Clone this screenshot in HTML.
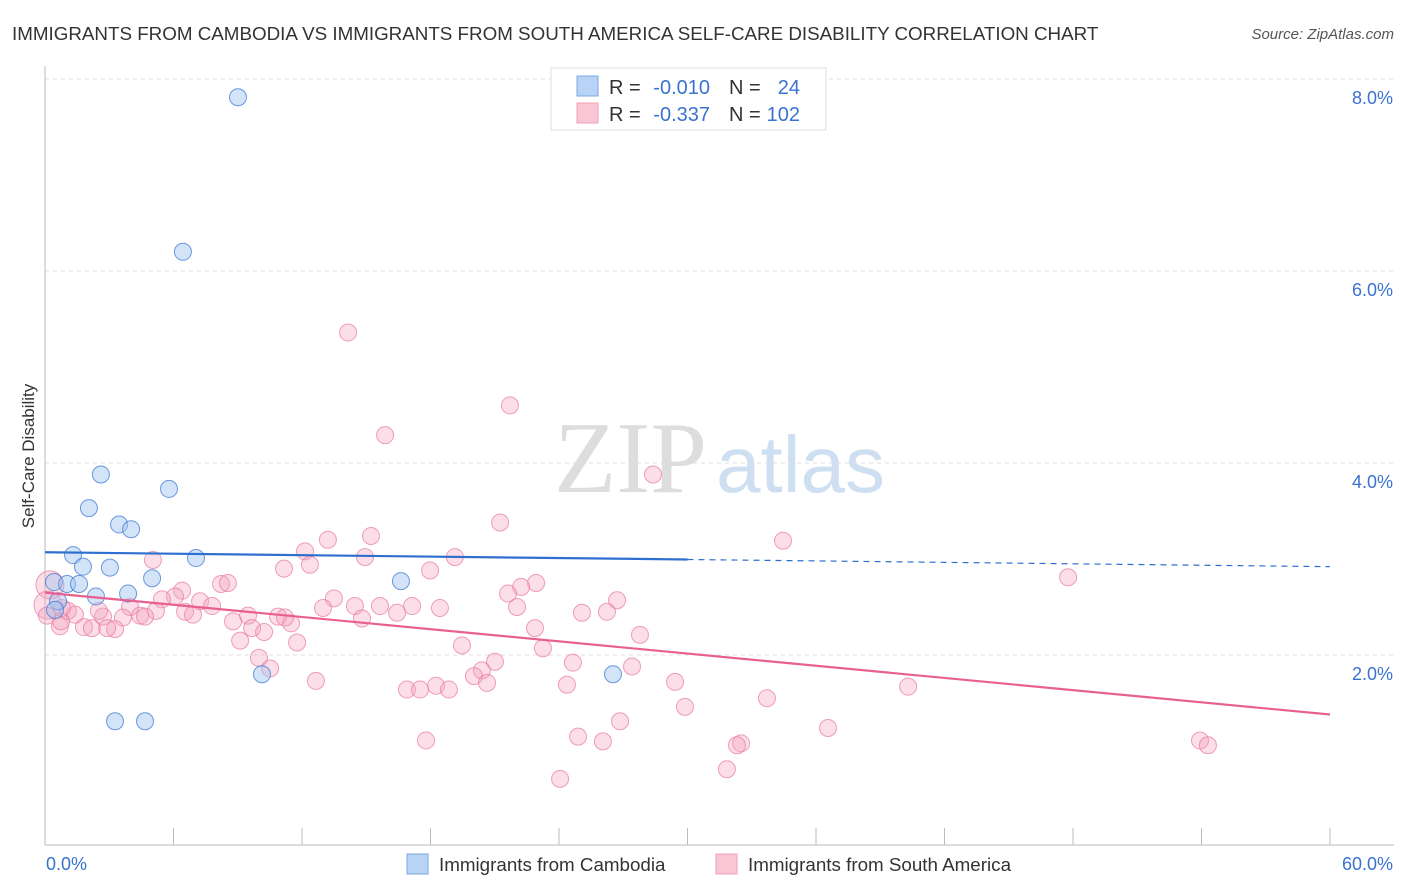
<!DOCTYPE html>
<html><head><meta charset="utf-8"><style>
body{margin:0;background:#fff;font-family:"Liberation Sans",sans-serif;}
#wrap{position:relative;width:1406px;height:892px;overflow:hidden;}
</style></head><body>
<div id="wrap">
<svg id="svg" width="1406" height="892" xmlns="http://www.w3.org/2000/svg">
<text x="12" y="40" font-size="18.8" fill="#333">IMMIGRANTS FROM CAMBODIA VS IMMIGRANTS FROM SOUTH AMERICA SELF-CARE DISABILITY CORRELATION CHART</text>
<text x="1394" y="39" font-size="15" fill="#555" font-style="italic" text-anchor="end">Source: ZipAtlas.com</text>
<text x="34" y="456" font-size="17" fill="#333" text-anchor="middle" transform="rotate(-90 34 456)">Self-Care Disability</text>
<text x="554" y="492" font-size="102" fill="#ddd" font-family="Liberation Serif,serif">ZIP</text>
<text x="716" y="492" font-size="80" fill="#cfdff2">atlas</text>
<g id="grid"></g><g id="axes"></g><g id="pts"></g><g id="lines"></g>
<g>
<rect x="551" y="68" width="275" height="62" fill="#fff" stroke="#ddd"/>
<rect x="577" y="76" width="21" height="20" fill="#b8d3f5" stroke="#7aa8e0"/>
<rect x="577" y="103" width="21" height="20" fill="#f9c6d6" stroke="#f0a0b8"/>
<text x="609" y="94" font-size="20" fill="#333">R =</text>
<text x="710" y="94" font-size="20" fill="#3a72d0" text-anchor="end">-0.010</text>
<text x="729" y="94" font-size="20" fill="#333">N =</text>
<text x="800" y="94" font-size="20" fill="#3a72d0" text-anchor="end">24</text>
<text x="609" y="121" font-size="20" fill="#333">R =</text>
<text x="710" y="121" font-size="20" fill="#3a72d0" text-anchor="end">-0.337</text>
<text x="729" y="121" font-size="20" fill="#333">N =</text>
<text x="800" y="121" font-size="20" fill="#3a72d0" text-anchor="end">102</text>
</g>
<g>
<rect x="407" y="854" width="21" height="20" fill="#b8d3f5" stroke="#7aa8e0"/>
<text x="439" y="871" font-size="18.8" fill="#333">Immigrants from Cambodia</text>
<rect x="716" y="854" width="21" height="20" fill="#f9c6d6" stroke="#f0a0b8"/>
<text x="748" y="871" font-size="18.8" fill="#333">Immigrants from South America</text>
</g>
</svg>
</div>
<script>
const blueX=[9.01,6.44,2.61,5.79,2.05,3.46,4.02,1.31,7.05,1.77,3.03,5.00,16.62,0.42,1.03,1.59,2.38,3.88,0.61,0.47,10.13,26.52,3.27,4.67];
const blueY=[7.81,6.20,3.88,3.73,3.53,3.36,3.31,3.04,3.01,2.92,2.91,2.80,2.77,2.76,2.74,2.74,2.61,2.64,2.56,2.47,1.80,1.80,1.31,1.31];
const pinkX=[14.15,21.71,15.88,28.39,21.25,34.46,15.22,13.21,12.14,19.14,5.04,14.94,12.37,11.16,17.98,47.77,8.22,8.54,22.93,22.23,6.40,6.07,5.46,7.24,13.49,21.62,26.71,3.97,15.64,14.47,12.98,17.14,18.44,7.80,22.04,5.18,4.44,4.67,6.54,9.48,10.88,16.44,25.07,26.24,6.91,2.71,14.80,8.78,3.64,11.49,9.67,10.23,1.07,0.70,1.82,2.19,3.27,1.40,22.88,27.78,9.11,11.77,19.47,23.25,9.99,21.01,24.65,10.51,27.41,20.40,20.03,12.65,20.64,24.37,29.42,40.30,18.26,18.86,16.90,17.51,33.71,29.88,26.85,36.56,24.89,53.93,17.79,26.05,32.50,32.31,54.30,31.84,24.05,0.23,0.14,0.75,0.09,0.79,2.52,2.90,11.21];
const pinkY=[5.36,4.60,4.29,3.88,3.38,3.19,3.24,3.20,3.08,3.02,2.99,3.02,2.94,2.90,2.88,2.81,2.74,2.75,2.75,2.71,2.67,2.61,2.58,2.56,2.59,2.64,2.57,2.50,2.51,2.51,2.49,2.51,2.49,2.51,2.50,2.46,2.41,2.40,2.45,2.41,2.40,2.44,2.44,2.45,2.42,2.40,2.38,2.35,2.39,2.33,2.28,2.24,2.46,2.30,2.29,2.28,2.27,2.42,2.28,2.21,2.15,2.13,2.10,2.07,1.97,1.93,1.92,1.86,1.88,1.84,1.78,1.73,1.71,1.69,1.72,1.67,1.68,1.64,1.64,1.64,1.55,1.46,1.31,1.24,1.15,1.11,1.11,1.10,1.08,1.06,1.06,0.81,0.71,2.73,2.52,2.35,2.41,2.49,2.46,2.28,2.39];
const bigPink=[93,94];
const yTicks=[2,4,6,8];
const yTickLabels=["2.0%","4.0%","6.0%","8.0%"];
const xTickLabels=["0.0%","60.0%"];
const blueTrend=[3.07,2.92];
const pinkTrend=[2.65,1.38];
const blueSolidEnd=30;
const NS="http://www.w3.org/2000/svg";
const X=v=>45+v/60*1285, Y=v=>847-v*96;
function mk(tag,at,parent){const e=document.createElementNS(NS,tag);for(const k in at)e.setAttribute(k,at[k]);document.getElementById(parent).appendChild(e);return e;}
yTicks.forEach((t,i)=>{
 const l=mk('line',{x1:45,x2:1394,y1:Y(t),y2:Y(t),stroke:'#ddd','stroke-dasharray':'4,4'},'grid');
 
 
 const tx=mk('text',{x:1393,y:Y(t)+25,'font-size':18,fill:'#3a72d0','text-anchor':'end'},'grid');tx.textContent=yTickLabels[i];
 
 
});
const ya=mk('line',{x1:45,x2:45,y1:66,y2:845,stroke:'#bbb'},'axes');


const xa=mk('line',{x1:45,x2:1394,y1:845,y2:845,stroke:'#bbb'},'axes');


for(let i=1;i<=10;i++){const t=mk('line',{x1:X(i*6),x2:X(i*6),y1:828,y2:845,stroke:'#bbb'},'axes');
 
 }
[[0,46,'start'],[60,1393,'end']].forEach((a,i)=>{const t=mk('text',{x:a[1],y:870,'font-size':18,fill:'#3a72d0','text-anchor':a[2]},'axes');t.textContent=xTickLabels[i];
 
 });
pinkX.forEach((v,i)=>{const big=bigPink.includes(i);const c=mk('circle',{cx:X(v),cy:Y(pinkY[i]),r:big?14:8.5,fill:'rgba(244,160,188,0.35)',stroke:'rgba(232,120,160,0.7)','stroke-width':1},'pts');
 
 });
blueX.forEach((v,i)=>{const c=mk('circle',{cx:X(v),cy:Y(blueY[i]),r:8.5,fill:'rgba(160,196,240,0.45)',stroke:'rgba(60,120,210,0.75)','stroke-width':1},'pts');
 
 });
const bAt=x=>blueTrend[0]+(blueTrend[1]-blueTrend[0])*x/60;
let l1=mk('line',{x1:X(0),y1:Y(bAt(0)),x2:X(blueSolidEnd),y2:Y(bAt(blueSolidEnd)),stroke:'#2f6fd0','stroke-width':2.2},'lines');


let l2=mk('line',{x1:X(blueSolidEnd),y1:Y(bAt(blueSolidEnd)),x2:X(60),y2:Y(bAt(60)),stroke:'#2f6fd0','stroke-width':1.2,'stroke-dasharray':'6,5'},'lines');


let l3=mk('line',{x1:X(0),y1:Y(pinkTrend[0]),x2:X(60),y2:Y(pinkTrend[1]),stroke:'#e8608f','stroke-width':2.2},'lines');


</script>
</body></html>
